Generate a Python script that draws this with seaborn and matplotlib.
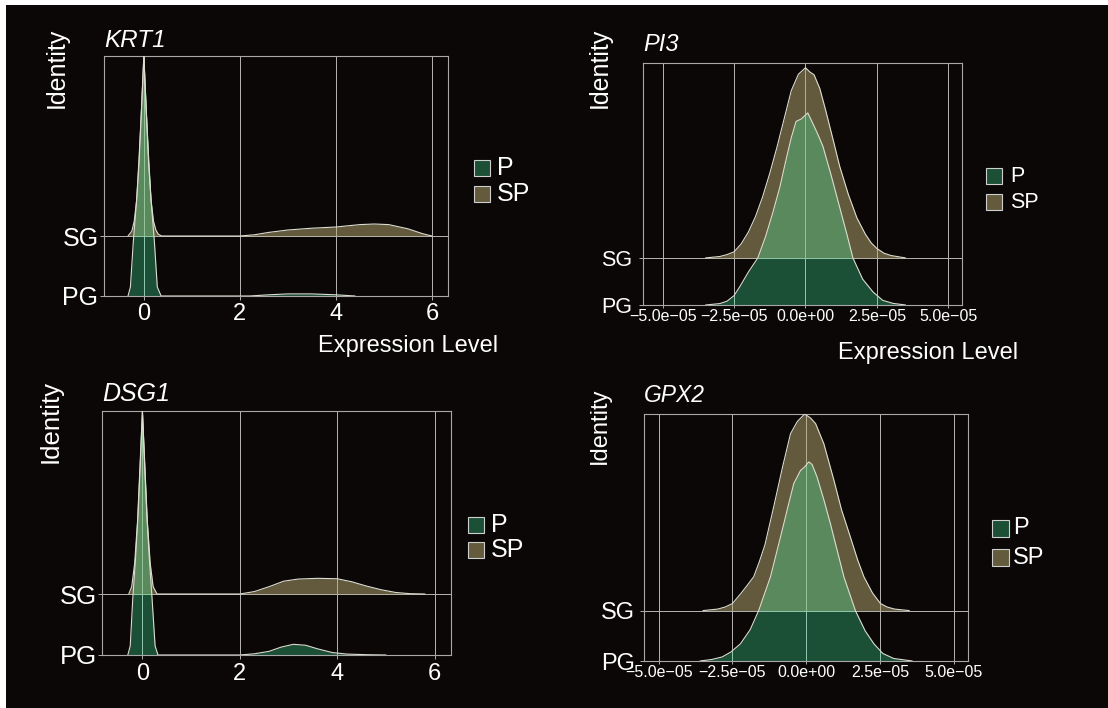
import numpy as np
import pandas as pd
import matplotlib
matplotlib.use("Agg")
import matplotlib.pyplot as plt
from matplotlib.patches import Rectangle
import seaborn as sns

# ridge outlines: x positions and ridge heights (in row units)
KRT1_SG_X = [-0.33, -0.25, -0.2, -0.15, -0.1, -0.05, 0.0, 0.05, 0.1, 0.15, 0.2, 0.25, 0.3, 0.37,
             2.0, 2.3, 2.6, 3.0, 3.5, 4.0, 4.5, 4.8, 5.1, 5.5, 5.8, 6.0]
KRT1_SG_H = [0, 0.08, 0.25, 0.6, 1.2, 2.1, 3.0, 2.1, 1.2, 0.6, 0.25, 0.1, 0.03, 0,
             0, 0.02, 0.06, 0.1, 0.13, 0.15, 0.19, 0.2, 0.19, 0.12, 0.04, 0]
KRT1_PG_X = [-0.33, -0.28, -0.22, -0.15, -0.1, -0.05, 0.0, 0.05, 0.1, 0.15, 0.22, 0.28, 0.36,
             2.2, 2.6, 3.0, 3.5, 4.0, 4.4]
KRT1_PG_H = [0, 0.15, 0.9, 1.6, 2.3, 3.1, 4.0, 3.1, 2.3, 1.6, 0.9, 0.15, 0,
             0, 0.02, 0.035, 0.035, 0.02, 0]

DSG1_SG_X = [-0.28, -0.22, -0.16, -0.1, -0.05, 0.0, 0.05, 0.1, 0.16, 0.22, 0.3,
             2.0, 2.3, 2.6, 2.9, 3.2, 3.6, 4.0, 4.3, 4.6, 4.9, 5.2, 5.5, 5.8]
DSG1_SG_H = [0, 0.12, 0.5, 1.2, 2.1, 3.0, 2.1, 1.2, 0.5, 0.12, 0,
             0, 0.04, 0.12, 0.21, 0.245, 0.257, 0.25, 0.2, 0.13, 0.07, 0.025, 0.005, 0]
DSG1_PG_X = [-0.3, -0.25, -0.2, -0.14, -0.09, -0.04, 0.0, 0.04, 0.09, 0.14, 0.2, 0.26, 0.32,
             2.0, 2.3, 2.6, 2.85, 3.1, 3.35, 3.6, 3.9, 4.2, 4.6, 5.0]
DSG1_PG_H = [0, 0.15, 0.9, 1.6, 2.3, 3.2, 4.0, 3.2, 2.3, 1.6, 0.9, 0.15, 0,
             0, 0.02, 0.06, 0.13, 0.175, 0.16, 0.1, 0.04, 0.015, 0.005, 0]

PI3_SG_X = [-3.5e-05, -3.0e-05, -2.75e-05, -2.5e-05, -2.25e-05, -2.0e-05, -1.75e-05, -1.5e-05,
            -1.25e-05, -1.0e-05, -0.75e-05, -0.5e-05, -0.25e-05, 0.0, 0.15e-05, 0.3e-05, 0.5e-05,
            0.7e-05, 0.95e-05, 1.2e-05, 1.5e-05, 1.8e-05, 2.1e-05, 2.3e-05, 2.5e-05, 2.75e-05,
            3.0e-05, 3.5e-05]
PI3_SG_H = [0, 0.03, 0.07, 0.13, 0.3, 0.55, 0.88, 1.3, 1.8, 2.35, 2.95, 3.55, 3.9, 4.04, 3.95,
            3.89, 3.6, 3.15, 2.55, 1.94, 1.35, 0.85, 0.5, 0.32, 0.2, 0.1, 0.05, 0]
PI3_PG_X = [-3.5e-05, -3.0e-05, -2.75e-05, -2.5e-05, -2.3e-05, -2.0e-05, -1.67e-05, -1.4e-05,
            -1.15e-05, -0.9e-05, -0.68e-05, -0.5e-05, -0.33e-05, -0.15e-05, 0.08e-05, 0.3e-05,
            0.45e-05, 0.61e-05, 0.9e-05, 1.19e-05, 1.45e-05, 1.66e-05, 2.0e-05, 2.36e-05,
            2.7e-05, 3.06e-05, 3.5e-05]
PI3_PG_H = [0, 0.03, 0.08, 0.2, 0.39, 0.7, 1.0, 1.45, 1.95, 2.5, 3.09, 3.55, 3.9, 3.95, 4.08,
            3.8, 3.6, 3.37, 2.75, 2.09, 1.5, 1.0, 0.55, 0.28, 0.1, 0.035, 0]

GPX2_SG_X = [-3.5e-05, -3.0e-05, -2.75e-05, -2.5e-05, -2.2e-05, -2.0e-05, -1.78e-05, -1.6e-05,
             -1.4e-05, -1.1e-05, -0.8e-05, -0.53e-05, -0.3e-05, -0.05e-05, 0.15e-05, 0.32e-05,
             0.6e-05, 0.94e-05, 1.2e-05, 1.5e-05, 1.75e-05, 1.96e-05, 2.25e-05, 2.52e-05,
             2.75e-05, 3.0e-05, 3.5e-05]
GPX2_SG_H = [0, 0.03, 0.07, 0.14, 0.35, 0.5, 0.67, 0.95, 1.3, 2.06, 2.85, 3.51, 3.75, 3.9, 3.82,
             3.71, 3.31, 2.59, 2.0, 1.46, 1.0, 0.67, 0.35, 0.14, 0.07, 0.03, 0]
GPX2_PG_X = [-3.6e-05, -3.2e-05, -2.85e-05, -2.55e-05, -2.23e-05, -1.9e-05, -1.61e-05, -1.21e-05,
             -0.87e-05, -0.6e-05, -0.42e-05, -0.19e-05, -0.05e-05, 0.09e-05, 0.2e-05, 0.37e-05,
             0.6e-05, 0.82e-05, 1.05e-05, 1.28e-05, 1.67e-05, 2.0e-05, 2.3e-05, 2.6e-05,
             2.97e-05, 3.6e-05]
GPX2_PG_H = [0, 0.03, 0.08, 0.18, 0.34, 0.62, 1.0, 1.67, 2.46, 3.1, 3.52, 3.78, 3.85, 3.95, 3.9,
             3.65, 3.2, 2.73, 2.2, 1.67, 1.0, 0.6, 0.34, 0.15, 0.05, 0]

ROWS = ["PG", "SG"]
GROUPS = ["P", "SP"]
LINEAR_TICKS = [0, 2, 4, 6]
SCI_TICKS = [-5.0e-05, -2.5e-05, 0.0, 2.5e-05, 5.0e-05]
SCI_LABELS = ["\u22125.0e\u221205", "\u22122.5e\u221205", "0.0e+00", "2.5e\u221205", "5.0e\u221205"]

BG = "#0a0706"
SP_FILL, SP_ALPHA = "#bcae74", 0.5
P_FILL, P_ALPHA = "#43f7a6", 0.3
KEY_COLORS = {"P": "#1b4f36", "SP": "#645b3d"}
LINE = "#dcdcd0"
GRID = "#b5b5b5"

sns.set_theme(style="dark", rc={"axes.facecolor": BG, "figure.facecolor": BG,
                                "axes.edgecolor": "#b0b0b0", "text.color": "white",
                                "xtick.color": "white", "ytick.color": "white"})
plt.rcParams["font.family"] = ["Liberation Sans", "DejaVu Sans"]

W, H = 1108, 708
fig = plt.figure(figsize=(W / 100, H / 100), dpi=100)


def px_axes(l, t, r, b):
    return fig.add_axes([l / W, 1 - b / H, (r - l) / W, (b - t) / H])


def ftext(x, y, s, **kw):
    fig.text(x / W, 1 - y / H, s, **kw)


def ridge(ax, x, h, base, color, alpha):
    top = base + np.array(h)
    ax.fill_between(x, base, top, color=color, alpha=alpha, lw=0, zorder=2)
    df = pd.DataFrame({"x": x, "y": top})
    sns.lineplot(data=df, x="x", y="y", ax=ax, color=LINE, lw=0.8, zorder=3,
                 estimator=None, sort=False)


panels = [
    dict(gene="KRT1", rect=(104, 56, 448, 296), xlim=(-0.83, 6.335), ylim=(1, 5),
         ticks=LINEAR_TICKS, labels=[str(t) for t in LINEAR_TICKS], xfs=17, xlen=3, xpad=2.4,
         yfs=18, ypad=1, tfs=17.5, tpad=6.8, sg=(KRT1_SG_X, KRT1_SG_H), pg=(KRT1_PG_X, KRT1_PG_H),
         ident=(57, 28, 18), key=(474, 160, 186, 16, 497, 18), xtitle=(318, 351.5)),
    dict(gene="PI3", rect=(643, 63, 962, 305), xlim=(-5.69e-05, 5.48e-05), ylim=(1, 6.14),
         ticks=SCI_TICKS, labels=SCI_LABELS, xfs=11.5, xlen=2.2, xpad=0.6,
         yfs=15.5, ypad=5, tfs=17, tpad=8.5, sg=(PI3_SG_X, PI3_SG_H), pg=(PI3_PG_X, PI3_PG_H),
         ident=(600, 28, 18), key=(986, 168, 194, 16, 1010, 15.5), xtitle=(838, 358.5)),
    dict(gene="DSG1", rect=(102, 411, 451, 655), xlim=(-0.83, 6.335), ylim=(1, 5),
         ticks=LINEAR_TICKS, labels=[str(t) for t in LINEAR_TICKS], xfs=17, xlen=3, xpad=2.4,
         yfs=18.5, ypad=0.3, tfs=18, tpad=7, sg=(DSG1_SG_X, DSG1_SG_H), pg=(DSG1_PG_X, DSG1_PG_H),
         ident=(51, 380, 18.5), key=(468, 517, 542, 16, 491, 18), xtitle=None),
    dict(gene="GPX2", rect=(644, 414, 968, 661), xlim=(-5.5e-05, 5.49e-05), ylim=(1, 5.9),
         ticks=SCI_TICKS, labels=SCI_LABELS, xfs=11.5, xlen=2.2, xpad=0.6,
         yfs=17, ypad=3.5, tfs=16.5, tpad=8.6, sg=(GPX2_SG_X, GPX2_SG_H), pg=(GPX2_PG_X, GPX2_PG_H),
         ident=(600, 387, 17), key=(992, 520, 549, 17, 1013, 17), xtitle=None),
]

for p in panels:
    ax = px_axes(*p["rect"])
    ax.set_axisbelow(True)
    # upper row first, lower row drawn on top of it
    ridge(ax, p["sg"][0], p["sg"][1], 2, SP_FILL, SP_ALPHA)
    ridge(ax, p["pg"][0], p["pg"][1], 1, P_FILL, P_ALPHA)

    ax.set_xlim(*p["xlim"])
    ax.set_ylim(*p["ylim"])
    ax.set_xticks(p["ticks"])
    ax.set_xticklabels(p["labels"])
    ax.set_yticks([1, 2])
    ax.set_yticklabels(ROWS)
    ax.set_xlabel("")
    ax.set_ylabel("")
    ax.grid(True, color=GRID, lw=0.7)
    ax.tick_params(axis="x", labelsize=p["xfs"], length=p["xlen"], pad=p["xpad"],
                   color="#b0b0b0", width=0.7, bottom=True)
    ax.tick_params(axis="y", labelsize=p["yfs"], length=3, pad=p["ypad"],
                   color="#b0b0b0", width=0.7, left=True)
    for s in ax.spines.values():
        s.set_color("#a8a8a8")
        s.set_linewidth(0.8)
    ax.set_title(p["gene"], loc="left", fontstyle="italic", fontsize=p["tfs"],
                 color="white", pad=p["tpad"])

    ix, iy, ifs = p["ident"]
    ftext(ix, iy, "Identity", rotation=90, ha="center", va="top", fontsize=ifs, color="white")

    kx, ky_p, ky_sp, ks, tx, kfs = p["key"]
    for name, ky in zip(GROUPS, [ky_p, ky_sp]):
        fig.add_artist(Rectangle((kx / W, 1 - (ky + ks) / H), ks / W, ks / H,
                                 transform=fig.transFigure, facecolor=KEY_COLORS[name],
                                 edgecolor="#cfcfcf", lw=0.8))
        ftext(tx, ky + ks / 2, name, ha="left", va="center", fontsize=kfs, color="white")

    if p["xtitle"] is not None:
        ftext(p["xtitle"][0], p["xtitle"][1], "Expression Level", ha="left",
              va="baseline", fontsize=17, color="white")

# white strips along the top and left edges
fig.add_artist(Rectangle((0, 1 - 5 / H), 1, 5 / H, transform=fig.transFigure,
                         facecolor="white", lw=0))
fig.add_artist(Rectangle((0, 0), 6 / W, 1, transform=fig.transFigure,
                         facecolor="white", lw=0))

fig.savefig("out.png", dpi=100, facecolor=BG)
